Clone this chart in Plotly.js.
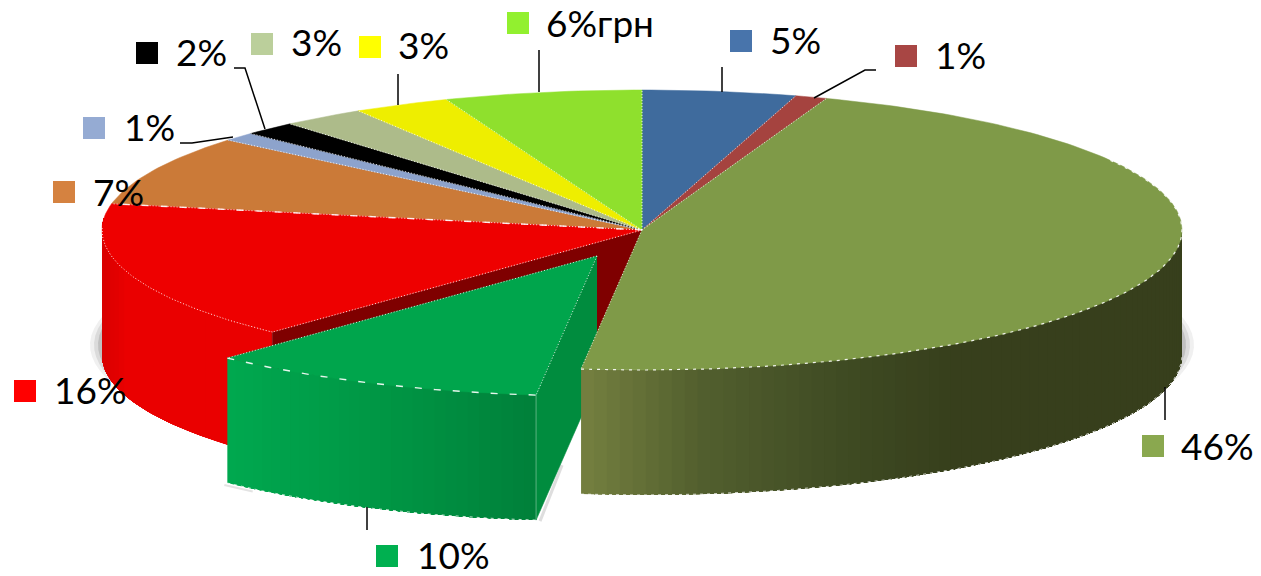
<!DOCTYPE html>
<html><head><meta charset="utf-8">
<script src="https://cdn.plot.ly/plotly-3.0.1.min.js"></script>
<style>html,body{margin:0;padding:0;background:#fff}#c{width:1261px;height:576px}</style>
</head><body><div id="c"></div>
<script>
// ---- data (clockwise from 12 o'clock) ----
const labels = ['5%','1%','46%','10%','16%','7%','1%','2%','3%','3%','6%грн'];
const shares = [4.6,0.95,46.25,10.2,16.0,8.1,1.0,1.6,2.5,2.9,5.9];

// ---- styles ----
const topColors = ['#3f6b9d','#a5433f','#7f9a48','#00a54c','#ee0000','#cb7a38','#8da3cc','#000000','#adbb8a','#eeee00','#8fe02d'];
const keyColors = ['#4874ab','#a84644','#8aa84f','#00b050','#ff0000','#d58240','#95abd3','#000000','#bbcf9b','#ffff00','#92f02f'];
const keyX  = [741,906,1153,387,25,64,94,147,262,370,518];
const keyY  = [41,56,446,556,391,192,128,53,44,47,23];
const textX = [770,935,1181,417,54,93,124,176,291,398,546];
const textY = [45,60,451,560,395,197,132,57,47,50,28];
const leaders = [
 [[722,67],[722,92]],
 [[876,70],[865,70],[814,98]],
 [[1165,387],[1165,420]],
 [[367,507],[367,530]],
 [],[],
 [[180,143],[192,143],[233,137]],
 [[234,68],[245,68],[265,129]],
 [],
 [[398,74],[398,105]],
 [[539,50],[539,92]]
];
const CX=642, CY=230, RX=540, RY=140, DEPTH=125, EX=-45, EY=26;
const OLIVE=2, GREEN=3, RED=4;

// ---- projection ----
const rad = d => d*Math.PI/180;
const px = (t,ox=0) => CX+ox+RX*Math.sin(rad(t));
const py = (t,oy=0) => CY+oy-RY*Math.cos(rad(t));
const total = shares.reduce((a,b)=>a+b,0);
let cum=0; const starts=[],ends=[];
shares.forEach(v=>{starts.push(cum/total*360);cum+=v;ends.push(cum/total*360);});
function arc(a,b,ox=0,oy=0){const n=Math.max(2,Math.ceil(Math.abs(b-a)));const xs=[],ys=[];
  for(let i=0;i<=n;i++){const t=a+(b-a)*i/n;xs.push(px(t,ox));ys.push(py(t,oy));}return [xs,ys];}
const traces=[];
function poly(xs,ys,color,lw){traces.push({type:'scatter',mode:'lines',x:xs,y:ys,fill:'toself',fillcolor:color,
  line:{color:color,width:lw===undefined?0.6:lw},hoverinfo:'skip',showlegend:false});}
function stroke(xs,ys,color,w,dash){traces.push({type:'scatter',mode:'lines',x:xs,y:ys,
  line:{color:color,width:w,dash:dash||'solid'},hoverinfo:'skip',showlegend:false});}
function lerpColor(stops,x){
  if(x<=stops[0][0])return stops[0][1];
  for(let i=1;i<stops.length;i++){if(x<=stops[i][0]){const f=(x-stops[i-1][0])/(stops[i][0]-stops[i-1][0]);
    return stops[i-1][1].map((c,k)=>Math.round(c+(stops[i][1][k]-c)*f));}}
  return stops[stops.length-1][1];}
// each strip runs on to the far end of the wall, so the next strip paints over it and no seam shows
function wall(a,b,ox,oy,stops,n){for(let i=0;i<n;i++){const t0=a+(b-a)*i/n,t1=a+(b-a)*(i+1)/n;
  const [ax,ay]=arc(t0,b,ox,oy);const [bx,by]=arc(b,t0,ox,oy+DEPTH);
  const c=lerpColor(stops,(px(t0,ox)+px(t1,ox))/2);
  poly(ax.concat(bx),ay.concat(by),'rgb('+c.join(',')+')',0);}}
function topSlice(i,ox=0,oy=0){const [ax,ay]=arc(starts[i],ends[i],ox,oy);
  poly([CX+ox].concat(ax,[CX+ox]),[CY+oy].concat(ay,[CY+oy]),topColors[i],0.5);}
function radial(t,ox=0,oy=0,c='rgba(255,255,255,0.85)'){stroke([CX+ox,px(t,ox)],[CY+oy,py(t,oy)],c,1,'1px,2px');}

// soft shadow beside the body, left and right only
[[552,0.08],[548,0.12],[544,0.18]].forEach(([r,o])=>{
  [[235,290],[70,130]].forEach(([a,b])=>{const xs=[],ys=[];
    for(let t=a;t<=b;t+=3){xs.push(CX+r*Math.sin(rad(t)));ys.push(345-136*Math.cos(rad(t)));}
    poly(xs,ys,'rgba(70,70,70,'+o+')',0);});
});

// red body
wall(starts[RED],Math.min(ends[RED],275),0,0,[[104,[218,0,0]],[128,[234,0,0]]],24);
const rt=starts[RED];
poly([CX,px(rt),px(rt),CX],[CY,py(rt),py(rt,DEPTH),CY+DEPTH],'#7f0000');

// back slices
[0,1,5,6,7,8,9,10].forEach(i=>topSlice(i));
topSlice(RED);
[0,1,5,6,7,8,9,10].forEach(i=>radial(starts[i]));
stroke([CX,px(ends[RED])],[CY,py(ends[RED])],'rgba(255,255,255,0.9)',1.4,'7px,12px');
radial(rt);
{const [x,y]=arc(ends[RED]-10,rt);stroke(x,y,'rgba(255,255,255,0.9)',1,'1px,2px');}

// exploded green slice
{const gs=starts[GREEN],ge=ends[GREEN];
 stroke([px(gs,EX+4),px(gs,EX+26)],[py(gs,EY+DEPTH+1),py(gs,EY+DEPTH-55)],'rgba(70,70,70,0.18)',3);
 {const [x,y]=arc(ge,ge-4,EX-3,EY+DEPTH+2);stroke(x,y,'rgba(70,70,70,0.15)',2);}
 poly([CX+EX,px(gs,EX),px(gs,EX),CX+EX],[CY+EY,py(gs,EY),py(gs,EY+DEPTH),CY+EY+DEPTH],'#008c3e');
 wall(ge,gs,EX,EY,[[228,[0,168,79]],[400,[0,148,67]],[535,[0,128,58]]],30);
 topSlice(GREEN,EX,EY);
 radial(gs,EX,EY);
 radial(ge,EX,EY);
 {const [x,y]=arc(ge,gs,EX,EY);stroke(x,y,'rgba(255,255,255,0.9)',1.4,'7px,12px');}
 {const [x,y]=arc(ge,gs,EX,EY+DEPTH);stroke(x,y,'rgba(255,255,255,0.8)',1,'3px,4px');}
 stroke([px(gs,EX),px(gs,EX)],[py(gs,EY),py(gs,EY+DEPTH)],'rgba(255,255,255,0.35)',1);
}

// olive body, on top of everything it overlaps
wall(ends[OLIVE],90,0,0,[[581,[117,128,64]],[700,[82,95,46]],[850,[62,74,34]],[950,[55,63,28]],[1182,[55,63,28]]],70);
topSlice(OLIVE);
radial(starts[OLIVE]);
radial(ends[OLIVE]);
{const [x,y]=arc(ends[OLIVE],60);stroke(x,y,'rgba(255,255,255,0.9)',1.2,'3px,5px');}
{const [x,y]=arc(ends[OLIVE],90,0,DEPTH);stroke(x,y,'rgba(255,255,255,0.8)',1,'3px,4px');}

// leader lines
leaders.forEach(l=>{if(l.length)stroke(l.map(p=>p[0]),l.map(p=>p[1]),'#000',1.5);});

// keys and labels
traces.push({type:'scatter',mode:'markers',x:keyX,y:keyY,
  marker:{symbol:'square',size:22,color:keyColors,line:{width:0}},hoverinfo:'skip',showlegend:false});
traces.push({type:'scatter',mode:'text',x:textX,y:textY,text:labels,textposition:'middle right',
  textfont:{family:'Lato, "Open Sans", sans-serif',size:37,color:'#000'},hoverinfo:'skip',showlegend:false,cliponaxis:false});

Plotly.newPlot('c',traces,{
  width:1261,height:576,margin:{l:0,r:0,t:0,b:0},paper_bgcolor:'#fff',plot_bgcolor:'#fff',showlegend:false,
  xaxis:{range:[0,1261],visible:false,fixedrange:true},
  yaxis:{range:[576,0],visible:false,fixedrange:true}
},{displayModeBar:false,staticPlot:true});
</script></body></html>
